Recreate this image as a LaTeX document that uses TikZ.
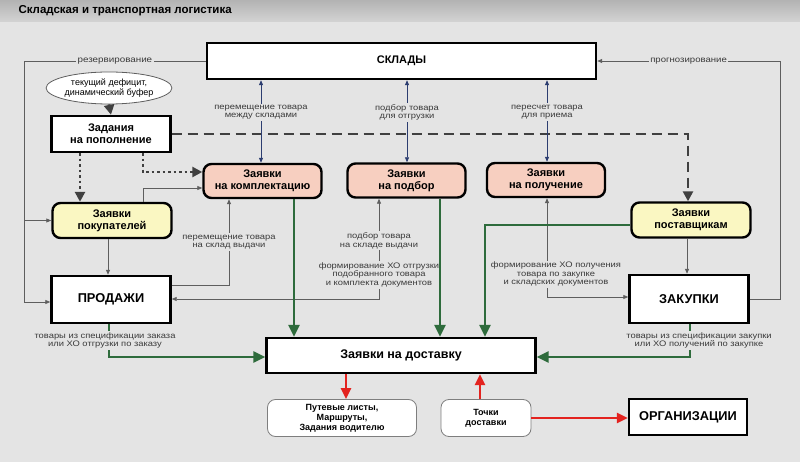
\documentclass[tikz,border=0pt]{standalone}
\usepackage{fontspec}
\setmainfont{Liberation Sans}
\newfontfamily\lblfont{Liberation Sans}[FakeStretch=1.17]
\usetikzlibrary{arrows.meta,shapes.geometric}
\definecolor{bgcol}{HTML}{E4E4E4}
\definecolor{pinkfill}{HTML}{F7CFC0}
\definecolor{yelfill}{HTML}{FAF7C2}
\definecolor{grn}{HTML}{2E6B3C}
\definecolor{redarr}{HTML}{E3231F}
\definecolor{thin}{HTML}{5E5E5E}
\definecolor{bluearr}{HTML}{2C3D70}
\definecolor{lbltext}{HTML}{3A3A3A}
\tikzset{
  box/.style={draw=black, line width=2.4pt, fill=white, align=center, inner sep=0pt,
    font=\bfseries\fontsize{11}{11.8}\selectfont},
  req/.style={box, rounded corners=8pt, fill=pinkfill, minimum width=118pt, minimum height=34pt},
  cust/.style={box, rounded corners=8pt, fill=yelfill, minimum width=119pt, minimum height=35pt},
  outbox/.style={draw=thin!80, line width=0.8pt, fill=white, rounded corners=8pt, align=center,
    inner sep=0pt, minimum height=37pt, font=\bfseries\fontsize{9}{10}\selectfont},
  lbl/.style={fill=bgcol, align=center, inner sep=1.5pt, text=lbltext,
    font=\lblfont\fontsize{8}{8.5}\selectfont},
  link/.style={draw=thin, line width=0.8pt, -{Triangle[length=5pt,width=4pt]}},
  link2/.style={link, {Triangle[length=5pt,width=4pt]}-{Triangle[length=5pt,width=4pt]}},
  whlink/.style={draw=bluearr, line width=0.8pt,
    {Triangle[length=5pt,width=4pt]}-{Triangle[length=5pt,width=4pt]}},
  flow/.style={draw=grn, line width=2.6pt, -{Triangle[length=12pt,width=11pt]}},
  deliv/.style={draw=redarr, line width=2.4pt, -{Triangle[length=11pt,width=10pt]}},
  plan/.style={draw=black!75, line width=2.6pt, dash pattern=on 2.5pt off 3pt,
    -{Triangle[length=10pt,width=10pt]}},
  plandash/.style={plan, dash pattern=on 10pt off 6pt},
}
\begin{document}
\begin{tikzpicture}[x=1pt,y=-1pt]
  \useasboundingbox (0,0) rectangle (800,462);
  \fill[bgcol] (0,0) rectangle (800,462);
  \shade[top color=black!30, bottom color=black!17] (0,0) rectangle (800,22);
  \node[anchor=west, font=\bfseries\fontsize{11.5}{13}\selectfont] (title) at (15,11)
    {Складская и транспортная логистика};

  % boxes
  \node[box, minimum width=389pt, minimum height=36pt, font=\bfseries\fontsize{11}{12}\selectfont]
    (sklady) at (401.5,61) {СКЛАДЫ};
  \node[ellipse, draw=thin, line width=0.8pt, fill=white, inner sep=0pt, align=center,
    minimum width=120pt, minimum height=32pt, font=\fontsize{9}{10}\selectfont]
    (deficit) at (109,88) {текущий дефицит,\\динамический буфер};
  \node[box, minimum width=119pt, minimum height=36pt] (zp) at (111,134) {Задания\\на пополнение};
  \node[req] (kompl) at (262.5,181) {Заявки\\на комплектацию};
  \node[req] (podb) at (406.5,180.5) {Заявки\\на подбор};
  \node[req] (polu) at (546,180) {Заявки\\на получение};
  \node[cust] (pokup) at (112,220.5) {Заявки\\покупателей};
  \node[cust] (postav) at (691,220) {Заявки\\поставщикам};
  \node[box, minimum width=119pt, minimum height=47pt, font=\bfseries\fontsize{12.8}{14}\selectfont]
    (prod) at (111,299.5) {ПРОДАЖИ};
  \node[box, minimum width=119pt, minimum height=48pt, font=\bfseries\fontsize{12.8}{14}\selectfont]
    (zakup) at (689,299) {ЗАКУПКИ};
  \node[box, minimum width=269pt, minimum height=35pt, font=\bfseries\fontsize{12.5}{14}\selectfont]
    (dost) at (401,355.5) {Заявки на доставку};
  \node[outbox, minimum width=149pt] (putev) at (342,418) {Путевые листы,\\Маршруты,\\Задания водителю};
  \node[outbox, minimum width=90pt] (tochki) at (486,418) {Точки\\доставки};
  \node[box, minimum width=118pt, minimum height=36pt, font=\bfseries\fontsize{12.8}{14}\selectfont]
    (org) at (688,417) {ОРГАНИЗАЦИИ};

  % reservation / forecast
  \draw[link] (sklady.west) -- node[lbl, font=\lblfont\fontsize{8.4}{9}\selectfont] (rez) {резервирование} (24,61) -- (24,302) -- (prod.west |- 0,302);
  \draw[link] (24,220.5) -- (pokup.west);
  \draw[link] (zakup.east) -- (780,299) -- (780,61) -- node[lbl, font=\lblfont\fontsize{8.2}{9}\selectfont] (prog) {прогнозирование} (sklady.east);

  % replenishment
  \draw[plan] (deficit.south) -- (zp.north);
  \draw[plan] (zp.south -| 80,0) -- (pokup.north -| 80,0);
  \draw[plan] (zp.south -| 143,0) -- (143,172) -- (kompl.west |- 0,172);
  \draw[plandash] (zp.east) -- (688,134) -- (postav.north -| 688,0);

  % warehouse operations
  \draw[whlink] (kompl.north -| 261,0) -- node[lbl, pos=0.61] (l1) {перемещение товара\\между складами} (sklady.south -| 261,0);
  \draw[whlink] (podb.north -| 407,0) -- node[lbl, pos=0.61] (l2) {подбор товара\\для отгрузки} (sklady.south -| 407,0);
  \draw[whlink] (polu.north -| 547,0) -- node[lbl, pos=0.61] (l3) {пересчет товара\\для приема} (sklady.south -| 547,0);

  % thin links
  \draw[link] (pokup.south -| 108,0) -- (prod.north -| 108,0);
  \draw[link] (postav.south -| 687,0) -- (zakup.north -| 687,0);
  \draw[link] (pokup.north -| 143,0) -- (143,188) -- (kompl.west |- 0,188);
  \draw[link] (prod.east |- 0,285) -- (229,285) -- node[lbl] (l4) {перемещение товара\\на склад выдачи} (kompl.south -| 229,0);
  \draw[link2] (podb.south -| 379,0) -- node[lbl, pos=0.42] (l5) {подбор товара\\на складе выдачи}
    node[lbl, pos=0.76] (l6) {формирование ХО отгрузки\\подобранного товара\\и комплекта документов}
    (379,299) -- (prod.east |- 0,299);
  \draw[link2] (polu.south -| 547,0) -- node[lbl, pos=0.77, xshift=9pt] (l7) {формирование ХО получения\\товара по закупке\\и складских документов}
    (547,297) -- (zakup.west |- 0,297);

  % goods flow
  \draw[flow] (kompl.south -| 294,0) -- (dost.north -| 294,0);
  \draw[flow] (podb.south -| 440,0) -- (dost.north -| 440,0);
  \draw[flow] (postav.west |- 0,225) -- (485,225) -- (dost.north -| 485,0);
  \draw[flow] (prod.south -| 109,0) -- node[lbl, xshift=-4pt] (l8) {товары из спецификации заказа\\или ХО отгрузки по заказу} (109,357) -- (dost.west |- 0,357);
  \draw[flow] (zakup.south -| 690,0) -- node[lbl, xshift=9pt] (l9) {товары из спецификации закупки\\или ХО получений по закупке} (690,357) -- (dost.east |- 0,357);

  % delivery
  \draw[deliv] (dost.south -| 346,0) -- (putev.north -| 346,0);
  \draw[deliv] (tochki.north -| 480,0) -- (dost.south -| 480,0);
  \draw[deliv] (tochki.east) -- (org.west |- tochki.east);
\end{tikzpicture}
\end{document}
